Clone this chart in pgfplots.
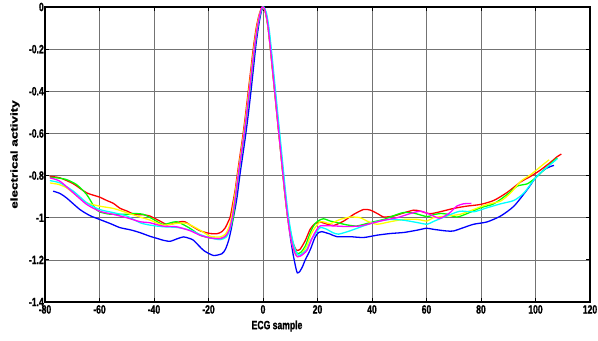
\documentclass[border=0pt]{standalone}
\usepackage{fontspec}
\usepackage{pgfplots}
\pgfplotsset{compat=1.18}
\newfontfamily\tickfont{Liberation Sans}[FakeStretch=0.72, BoldFeatures={FakeBold=1.2}]
\newfontfamily\labfont{Liberation Sans}[BoldFeatures={FakeBold=1}]
\definecolor{mblue}{rgb}{0,0,1}
\definecolor{mred}{rgb}{1,0,0}
\definecolor{mgreen}{rgb}{0,1,0}
\definecolor{myellow}{rgb}{1,1,0}
\definecolor{mcyan}{rgb}{0,1,1}
\definecolor{mmag}{rgb}{1,0,1}
\begin{document}
\begin{tikzpicture}
\begin{axis}[
  at={(0,0)}, anchor=south west,
  scale only axis, width=545bp, height=295bp,
  xmin=-80, xmax=120, ymin=-1.4, ymax=0,
  xtick={-80,-60,-40,-20,0,20,40,60,80,100,120},
  xticklabels={-80,-60,-40,-20,0,20,40,60,80,100,120},
  ytick={-1.4,-1.2,-1,-0.8,-0.6,-0.4,-0.2,0},
  yticklabels={-1.4,-1.2,-1,-0.8,-0.6,-0.4,-0.2,0},
  xtick pos=both, ytick pos=both,
  xticklabel pos=lower, yticklabel pos=left,
  tick align=inside, major tick length=4bp,
  tick style={black, line width=0.8bp},
  grid=major, major grid style={black!55, line width=0.6bp},
  axis line style={black, line width=1.4bp},
  ticklabel style={font=\tickfont\bfseries\fontsize{12}{12}\selectfont},
  yticklabel style={inner sep=1bp},
  xticklabel style={inner sep=1bp, yshift=-2bp},
  xlabel={ECG sample},
  xlabel style={at={(rel axis cs:0.4257,0)}, anchor=north, yshift=-15bp, font=\tickfont\bfseries\fontsize{12}{12}\selectfont},
  ylabel={\scalebox{1}[0.74]{electrical activity}},
  ylabel style={at={(rel axis cs:-0.055,0.5)}, anchor=center, font=\labfont\bfseries\fontsize{13.5}{14}\selectfont},
  every axis plot/.append style={line width=1.3bp, smooth, tension=0.4, no markers},
]
\addplot[mblue] coordinates {(-77,-0.874) (-74.5,-0.885) (-72.1,-0.906) (-67.2,-0.961) (-63.5,-0.99) (-60,-1.008) (-56,-1.028) (-52.5,-1.047) (-48.5,-1.058) (-45.1,-1.071) (-41.5,-1.088) (-38.4,-1.1) (-36.6,-1.107) (-34.1,-1.112) (-31.5,-1.1) (-29.2,-1.091) (-27.3,-1.097) (-25.5,-1.107) (-21.8,-1.155) (-18.2,-1.179) (-15.1,-1.171) (-13.8,-1.15) (-12.6,-1.107) (-11.6,-1.05) (-10.9,-1.0) (-10.2,-0.955) (-9.5,-0.90) (-8.5,-0.80) (-7.5,-0.71) (-6.5,-0.62) (-5.5,-0.52) (-4.5,-0.41) (-3.5,-0.29) (-2.5,-0.17) (-1.5,-0.08) (-0.6,-0.02) (0.2,0) (1.1,-0.03) (2,-0.10) (3,-0.22) (4,-0.35) (5,-0.48) (6,-0.61) (7,-0.74) (8,-0.87) (9,-0.99) (10,-1.09) (11,-1.17) (12,-1.235) (12.6,-1.262) (13.5,-1.255) (14.5,-1.232) (15.5,-1.2) (17.4,-1.15) (19,-1.095) (20.4,-1.07) (21.6,-1.066) (24.7,-1.078) (27.1,-1.09) (32,-1.09) (36.9,-1.094) (41.8,-1.083) (46.7,-1.075) (51.7,-1.07) (56.6,-1.059) (60,-1.05) (62.5,-1.055) (67.4,-1.063) (69.9,-1.063) (73.6,-1.047) (77.3,-1.031) (82.2,-1.02) (87.2,-0.992) (92.1,-0.945) (97,-0.866) (100,-0.811) (103.2,-0.772) (105.7,-0.756) (106.8,-0.752)};
\addplot[mred] coordinates {(-78.3,-0.803) (-74.5,-0.811) (-69.6,-0.839) (-64.7,-0.882) (-60,-0.902) (-57.4,-0.918) (-54.9,-0.932) (-52.5,-0.955) (-50,-0.968) (-47.6,-0.982) (-45.1,-0.986) (-43.9,-0.986) (-41.5,-0.992) (-37.8,-1.016) (-35.3,-1.033) (-34.1,-1.032) (-30.4,-1.019) (-28.5,-1.02) (-26.7,-1.035) (-23.1,-1.062) (-19.4,-1.075) (-16.9,-1.076) (-15.2,-1.067) (-13.8,-1.047) (-12.8,-1.02) (-12,-0.995) (-11.2,-0.94) (-10.2,-0.867) (-9.5,-0.80) (-8.5,-0.71) (-7.5,-0.62) (-6.5,-0.52) (-5.5,-0.41) (-4.5,-0.30) (-3.5,-0.19) (-2.5,-0.10) (-1.5,-0.04) (-0.7,-0.01) (0,0) (0.8,-0.02) (1.8,-0.09) (2.8,-0.21) (3.8,-0.34) (4.8,-0.47) (5.8,-0.60) (6.8,-0.73) (7.8,-0.86) (8.8,-0.97) (9.8,-1.05) (10.8,-1.11) (11.8,-1.145) (12.5,-1.155) (13.6,-1.15) (15.5,-1.109) (17.3,-1.055) (19.1,-1.028) (21,-1.021) (23.4,-1.03) (25.9,-1.037) (29.6,-1.016) (33.3,-0.984) (36.9,-0.961) (39.4,-0.964) (42.5,-0.984) (44.3,-0.997) (48,-0.992) (51.7,-0.977) (55.3,-0.964) (57.5,-0.968) (61.2,-0.981) (64.9,-0.972) (69.9,-0.956) (74.8,-0.945) (79.8,-0.937) (84.7,-0.918) (89.6,-0.88) (94.6,-0.83) (98.3,-0.803) (102,-0.772) (105.7,-0.735) (108,-0.71) (109.5,-0.698)};
\addplot[mgreen] coordinates {(-78.2,-0.808) (-75,-0.812) (-72.1,-0.819) (-68.4,-0.843) (-64.7,-0.89) (-61.7,-0.953) (-60,-0.972) (-57,-0.982) (-54.9,-0.984) (-50,-0.984) (-47.6,-0.98) (-43.9,-0.984) (-40.2,-1.008) (-36.6,-1.032) (-31.7,-1.019) (-26.7,-1.051) (-23.1,-1.083) (-19.4,-1.096) (-15.7,-1.099) (-13.8,-1.09) (-12.6,-1.067) (-11.5,-1.03) (-10.8,-0.99) (-10,-0.90) (-9,-0.80) (-8,-0.71) (-7,-0.62) (-6,-0.52) (-5,-0.41) (-4,-0.30) (-3,-0.19) (-2,-0.10) (-1,-0.03) (0,0) (1,-0.03) (2,-0.11) (3,-0.23) (4,-0.36) (5,-0.49) (6,-0.62) (7,-0.75) (8,-0.88) (9,-0.99) (10,-1.07) (11,-1.125) (12,-1.16) (12.8,-1.17) (14,-1.163) (15.5,-1.135) (16.8,-1.09) (17.9,-1.055) (19,-1.03) (20.4,-1.014) (22.2,-1.005) (24.7,-1.016) (27.1,-1.023) (30.8,-1.034) (34.5,-1.039) (39.4,-1.023) (44.3,-1.008) (48,-0.99) (51.7,-0.975) (55.3,-0.978) (60.2,-0.995) (62.5,-0.986) (65.2,-0.98) (67.4,-0.983) (71.1,-0.997) (74.8,-0.981) (79.8,-0.953) (84.7,-0.934) (89.6,-0.89) (93.3,-0.85) (97,-0.839) (100,-0.811) (103.2,-0.772) (106.3,-0.735) (108,-0.716)};
\addplot[myellow] coordinates {(-78.2,-0.835) (-75,-0.842) (-72.1,-0.858) (-68.4,-0.895) (-64.7,-0.929) (-60,-0.945) (-54.9,-0.956) (-50,-0.976) (-45.1,-0.997) (-41.5,-1.011) (-36.6,-1.035) (-31.7,-1.027) (-28,-1.027) (-23.1,-1.059) (-19.4,-1.088) (-15.7,-1.091) (-13.8,-1.078) (-12.5,-1.045) (-11.6,-1.0) (-10.3,-0.89) (-9.3,-0.80) (-8.3,-0.71) (-7.3,-0.62) (-6.3,-0.52) (-5.3,-0.41) (-4.3,-0.30) (-3.3,-0.19) (-2.3,-0.10) (-1.3,-0.035) (-0.5,-0.005) (0,0) (1,-0.03) (2,-0.11) (3,-0.23) (4,-0.36) (5,-0.49) (6,-0.62) (7,-0.75) (8,-0.88) (9,-0.995) (10,-1.08) (11,-1.14) (12,-1.175) (12.7,-1.185) (14,-1.175) (16.1,-1.133) (17.6,-1.08) (19.1,-1.047) (21,-1.019) (22.8,-1.022) (24.7,-1.028) (28.3,-1.008) (32,-0.997) (35.7,-1.0) (38.2,-1.016) (41.8,-1.031) (46.7,-1.019) (51.7,-1.008) (56.6,-1.008) (60.2,-1.016) (62.5,-1.0) (67.4,-0.992) (72.3,-0.984) (77.3,-0.961) (82.2,-0.937) (87.2,-0.921) (90.9,-0.882) (94.6,-0.827) (98.3,-0.795) (102,-0.756) (105,-0.725)};
\addplot[mcyan] coordinates {(-78.2,-0.824) (-74.5,-0.835) (-69.6,-0.874) (-64.7,-0.929) (-60,-0.961) (-54.9,-0.976) (-50,-0.992) (-45.1,-1.024) (-41.5,-1.035) (-36.6,-1.043) (-31.7,-1.046) (-26.7,-1.059) (-23.1,-1.08) (-19.4,-1.096) (-15.7,-1.104) (-13.5,-1.092) (-12.2,-1.059) (-11.2,-1.0) (-10.2,-0.91) (-9.2,-0.81) (-8.2,-0.72) (-7.2,-0.63) (-6.2,-0.53) (-5.2,-0.42) (-4.2,-0.31) (-3.2,-0.20) (-2.2,-0.11) (-1.2,-0.04) (-0.4,-0.005) (0.3,0) (1.3,-0.03) (2.3,-0.11) (3.3,-0.23) (4.3,-0.36) (5.3,-0.49) (6.3,-0.62) (7.3,-0.75) (8.3,-0.88) (9.3,-0.99) (10.3,-1.07) (11.3,-1.13) (12.3,-1.165) (13,-1.178) (14.2,-1.172) (16.1,-1.15) (17.6,-1.105) (19.1,-1.078) (21,-1.047) (23.4,-1.055) (25.5,-1.07) (27.7,-1.078) (32,-1.062) (36.9,-1.039) (41.8,-1.019) (46.7,-1.008) (51.7,-1.012) (56.6,-1.023) (60.2,-1.031) (62.5,-1.018) (67.4,-0.992) (72.3,-0.969) (77.3,-0.972) (82.2,-0.953) (87.2,-0.934) (92.1,-0.918) (95.8,-0.882) (100,-0.811) (103.2,-0.772) (106.9,-0.732) (108,-0.72)};
\addplot[mmag] coordinates {(-78.2,-0.811) (-74.5,-0.827) (-69.6,-0.882) (-64.7,-0.937) (-60,-0.969) (-54.9,-0.984) (-50,-1.0) (-45.1,-1.019) (-41.5,-1.024) (-36.6,-1.04) (-31.7,-1.043) (-26.7,-1.062) (-23.1,-1.083) (-19.4,-1.096) (-15.7,-1.099) (-13.6,-1.085) (-12.3,-1.055) (-11.2,-0.995) (-10.1,-0.90) (-9.1,-0.80) (-8.1,-0.71) (-7.1,-0.62) (-6.1,-0.52) (-5.1,-0.41) (-4.1,-0.30) (-3.1,-0.19) (-2.1,-0.10) (-1.1,-0.03) (-0.3,0) (0.6,-0.01) (1.6,-0.07) (2.6,-0.18) (3.6,-0.31) (4.6,-0.44) (5.6,-0.57) (6.6,-0.70) (7.6,-0.83) (8.6,-0.95) (9.6,-1.05) (10.6,-1.12) (11.6,-1.165) (12.6,-1.185) (14,-1.18) (16.1,-1.156) (17.6,-1.11) (19.1,-1.07) (21,-1.039) (25.9,-1.039) (30.8,-1.042) (35.7,-1.039) (39.4,-1.028) (44.3,-1.012) (49.2,-1.0) (54.1,-0.98) (57.8,-0.969) (61.2,-0.984) (64.9,-1.003) (68.6,-0.976) (71.1,-0.945) (73.6,-0.934) (76.5,-0.932)};
\end{axis}
\pgfresetboundingbox
\path[use as bounding box] (-45bp,-39bp) rectangle (553bp,302bp);
\end{tikzpicture}
\end{document}
